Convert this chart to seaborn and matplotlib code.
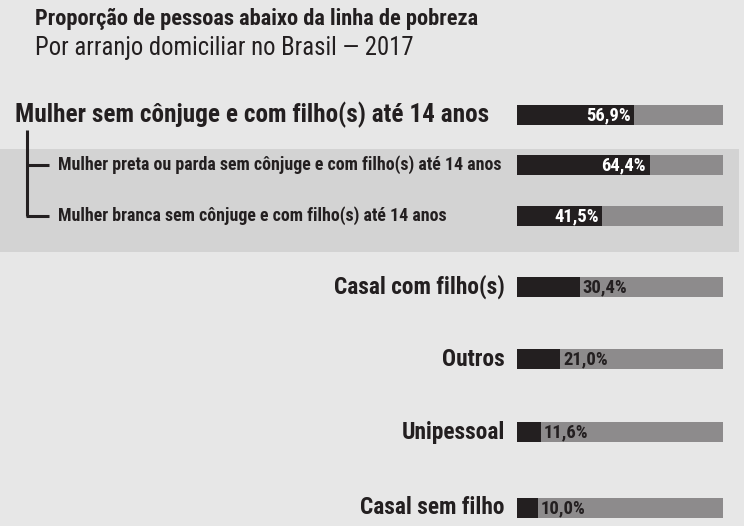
import matplotlib.pyplot as plt
import numpy as np
import pandas as pd
import seaborn as sns
from matplotlib.patches import Rectangle

# data
categorias = [
    "Mulher sem cônjuge e com filho(s) até 14 anos",
    "Mulher preta ou parda sem cônjuge e com filho(s) até 14 anos",
    "Mulher branca sem cônjuge e com filho(s) até 14 anos",
    "Casal com filho(s)",
    "Outros",
    "Unipessoal",
    "Casal sem filho",
]
valores = [56.9, 64.4, 41.5, 30.4, 21.0, 11.6, 10.0]
rotulos = ["56,9%", "64,4%", "41,5%", "30,4%", "21,0%", "11,6%", "10,0%"]

# layout (row centres in pixels from top)
linhas = [115, 165, 216, 287, 359, 432, 508]

BG = "#e7e7e7"
BAND = "#d3d3d3"
DARK = "#231f20"
GRAY = "#8d8b8c"

sns.set_theme(style="white")
plt.rcParams['font.family'] = ['Roboto Condensed', 'DejaVu Sans']

W, H = 744, 526
fig = plt.figure(figsize=(W / 100, H / 100), dpi=100)
fig.patch.set_facecolor(BG)

# background / decoration axes in pixel units
bg = fig.add_axes([0, 0, 1, 1])
bg.set_xlim(0, W)
bg.set_ylim(H, 0)
bg.axis("off")
bg.add_patch(Rectangle((0, 149), 739, 103, color=BAND, lw=0))

# bracket
bg.plot([27, 27], [130, 216], color=DARK, lw=2.2, solid_capstyle="butt")
bg.plot([27, 49], [165, 165], color=DARK, lw=2.2, solid_capstyle="butt")
bg.plot([26.2, 49], [216, 216], color=DARK, lw=2.2, solid_capstyle="butt")

bg.text(35, 19, "Proporção de pessoas abaixo da linha de pobreza",
        fontsize=16.1, fontweight="bold", color=DARK, va="center", ha="left")
bg.text(35, 48, "Por arranjo domiciliar no Brasil — 2017",
        fontsize=17.8, color=DARK, va="center", ha="left")

# labels
bg.text(15, linhas[0], categorias[0], fontsize=18.2, fontweight="bold",
        color=DARK, va="center", ha="left")
for i in (1, 2):
    bg.text(58, linhas[i], categorias[i], fontsize=12.9, fontweight="bold",
            color=DARK, va="center", ha="left")
for i in range(3, 7):
    bg.text(505, linhas[i], categorias[i], fontsize=16.8, fontweight="bold",
            color=DARK, va="center", ha="right")

# bars axes
x0, x1 = 517, 723
ax = fig.add_axes([x0 / W, 0, (x1 - x0) / W, 1])
df = pd.DataFrame({"cat": categorias, "valor": valores, "total": [100] * len(valores),
                   "pos": linhas})
sns.barplot(data=df, x="total", y="pos", orient="h", native_scale=True,
            color=GRAY, saturation=1, width=0.4, linewidth=0, ax=ax)
sns.barplot(data=df, x="valor", y="pos", orient="h", native_scale=True,
            color=DARK, saturation=1, width=0.4, linewidth=0, ax=ax)
ax.set_xlim(0, 100)
ax.set_ylim(H, 0)
ax.axis("off")
ax.patch.set_alpha(0)

for i, (v, r, p) in enumerate(zip(valores, rotulos, linhas)):
    if i < 3:
        ax.annotate(r, (v, p), xytext=(-2.5, 0), textcoords="offset points",
                    ha="right", va="center", color="white", fontsize=13.4,
                    fontweight="bold")
    else:
        ax.annotate(r, (v, p), xytext=(2, 0), textcoords="offset points",
                    ha="left", va="center", color=DARK, fontsize=13.4,
                    fontweight="bold")

fig.savefig("out.png", dpi=100, facecolor=BG)
